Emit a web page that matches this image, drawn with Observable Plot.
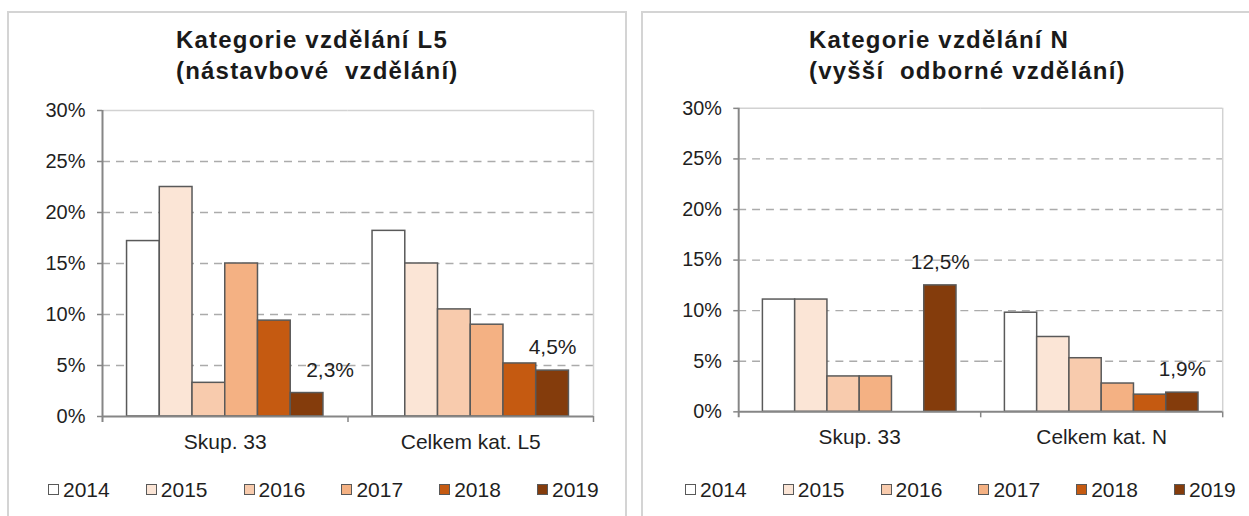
<!DOCTYPE html>
<html>
<head>
<meta charset="utf-8">
<script src="https://cdn.jsdelivr.net/npm/d3@7"></script>
<script src="https://cdn.jsdelivr.net/npm/@observablehq/plot@0.6"></script>
<style>
html, body { margin: 0; padding: 0; background: #fff; }
body { width: 1249px; height: 516px; overflow: hidden; position: relative;
  font-family: "Liberation Sans", Arial, sans-serif; color: #1f1f1f; }
.panel { position: absolute; top: 11px; height: 560px; width: 620px; box-sizing: border-box;
  border: 2px solid #d4d4d4; }
.title { position: absolute; top: 24px; font-weight: bold; font-size: 24px; line-height: 31px;
  letter-spacing: 1.2px; white-space: pre; color: #1a1a1a; }
.chart { position: absolute; top: 90px; }
.chart svg { overflow: visible; }
.legend { position: absolute; top: 476px; font-size: 21px; line-height: 24px; white-space: nowrap; }
.item { display: inline-flex; align-items: center; width: 97.8px; }
.sw { width: 11px; height: 11px; box-sizing: border-box; border: 1.5px solid #595959; margin-right: 4px; }
</style>
</head>
<body>
<div class="panel" style="left:7px"></div>
<div class="panel" style="left:641px"></div>
<div id="root"></div>
<script>
// ---- data ----
const years = ["2014", "2015", "2016", "2017", "2018", "2019"];
const colors = ["#ffffff", "#fbe5d6", "#f8cbad", "#f4b183", "#c55a11", "#843c0c"];
const yTicks = [0, 5, 10, 15, 20, 25, 30];
const gridTicks = [5, 10, 15, 20, 25];
const labeledYear = "2019";

// Chart 1: Kategorie vzdělání L5
const titleL5 = ["Kategorie vzdělání L5", "(nástavbové  vzdělání)"];
const catsL5 = ["Skup. 33", "Celkem kat. L5"];
const skup33L5 = [17.2, 22.5, 3.3, 15.0, 9.4, 2.3];
const celkemL5 = [18.2, 15.0, 10.5, 9.0, 5.2, 4.5];

// Chart 2: Kategorie vzdělání N
const titleN = ["Kategorie vzdělání N", "(vyšší  odborné vzdělání)"];
const catsN = ["Skup. 33", "Celkem kat. N"];
const skup33N = [11.1, 11.1, 3.5, 3.5, null, 12.5];
const celkemN = [9.8, 7.4, 5.3, 2.8, 1.7, 1.9];

// ---- drawing ----
const root = document.getElementById("root");
const fmt = v => v.toFixed(1).replace(".", ",") + "%";
const axisGray = "#868686";
const textColor = "#1f1f1f";

function makeChart(cfg) {
  const rows = [];
  cfg.cats.forEach((c, i) => cfg.series[i].forEach((v, j) => {
    if (v != null) rows.push({cat: c, year: years[j], value: v});
  }));
  const iw = cfg.width - cfg.mL - cfg.mR;
  const bw = iw / cfg.cats.length / (years.length + 1.5);
  const edge = 1.25 * bw;
  const first = cfg.cats[0], last = cfg.cats[cfg.cats.length - 1];
  const lastYear = years[years.length - 1];
  const labels = rows.filter(d => d.year === labeledYear);

  return Plot.plot({
    width: cfg.width, height: cfg.height,
    marginLeft: cfg.mL, marginRight: cfg.mR, marginTop: cfg.mT, marginBottom: cfg.mB,
    style: {fontFamily: '"Liberation Sans", Arial, sans-serif', fontSize: "21px", color: textColor, background: "transparent", overflow: "visible"},
    fx: {domain: cfg.cats, padding: 0, round: false, label: null},
    x: {domain: years, paddingInner: 0, paddingOuter: 0.75, round: false, axis: null},
    y: {domain: [0, 30], label: null},
    color: {domain: years, range: colors},
    marks: [
      Plot.ruleY(gridTicks, {stroke: "#ababab", strokeWidth: 1.3, strokeDasharray: "8,6"}),
      Plot.ruleY([30], {stroke: "#d2d2d2", strokeWidth: 1.5}),
      Plot.ruleX([last], {fx: d => d, x: () => lastYear, y1: 30, y2: 0, dx: edge, stroke: "#d2d2d2", strokeWidth: 1.5}),
      Plot.barY(rows, {fx: "cat", x: "year", y: "value", fill: "year", stroke: "#595959", strokeWidth: 1.5}),
      Plot.ruleY([0], {stroke: axisGray, strokeWidth: 2}),
      Plot.ruleX([first], {fx: d => d, x: () => years[0], y1: 30, y2: 0, insetBottom: -6, dx: -edge, stroke: axisGray, strokeWidth: 2}),
      Plot.ruleX(cfg.cats.slice(1), {fx: d => d, x: () => years[0], y1: 0, y2: 0, insetBottom: -6, dx: -edge, stroke: axisGray, strokeWidth: 1.5}),
      Plot.ruleX([last], {fx: d => d, x: () => lastYear, y1: 0, y2: 0, insetBottom: -6, dx: edge, stroke: axisGray, strokeWidth: 1.5}),
      Plot.axisY({ticks: yTicks, tickSize: 5, tickPadding: 12, tickFormat: d => d + "%", stroke: axisGray, strokeWidth: 1.5, fill: textColor, fontSize: 20, label: null}),
      Plot.axisFx({anchor: "bottom", tickSize: 0, tickPadding: 18, label: null, fill: textColor, fontSize: 21}),
      Plot.text(labels.filter(d => d.cat === first), {fx: "cat", x: "year", y: "value", text: d => fmt(d.value), dy: -23, dx: cfg.shiftFirst, fill: textColor, fontSize: 21}),
      Plot.text(labels.filter(d => d.cat !== first), {fx: "cat", x: "year", y: "value", text: d => fmt(d.value), dy: -23, fill: textColor, fontSize: 21})
    ]
  });
}

function addPanel(cfg) {
  const t = document.createElement("div");
  t.className = "title";
  t.style.left = cfg.titleX + "px";
  t.textContent = cfg.title.join("\n");
  root.appendChild(t);

  const c = document.createElement("div");
  c.className = "chart";
  c.style.left = cfg.left + "px";
  c.appendChild(makeChart(cfg));
  root.appendChild(c);

  const lg = document.createElement("div");
  lg.className = "legend";
  lg.style.left = cfg.legendX + "px";
  years.forEach((y, i) => {
    const it = document.createElement("span");
    it.className = "item";
    const sw = document.createElement("span");
    sw.className = "sw";
    sw.style.background = colors[i];
    it.appendChild(sw);
    it.appendChild(document.createTextNode(y));
    lg.appendChild(it);
  });
  root.appendChild(lg);
}

addPanel({title: titleL5, titleX: 176, cats: catsL5, series: [skup33L5, celkemL5],
  left: 0, width: 620, height: 380, mL: 102, mR: 27, mT: 20, mB: 54, shiftFirst: 23, legendX: 48});
addPanel({title: titleN, titleX: 809, cats: catsN, series: [skup33N, celkemN],
  left: 640, width: 614, height: 380, mL: 99, mR: 27, mT: 18, mB: 56, shiftFirst: 0, legendX: 685});
</script>
</body>
</html>
